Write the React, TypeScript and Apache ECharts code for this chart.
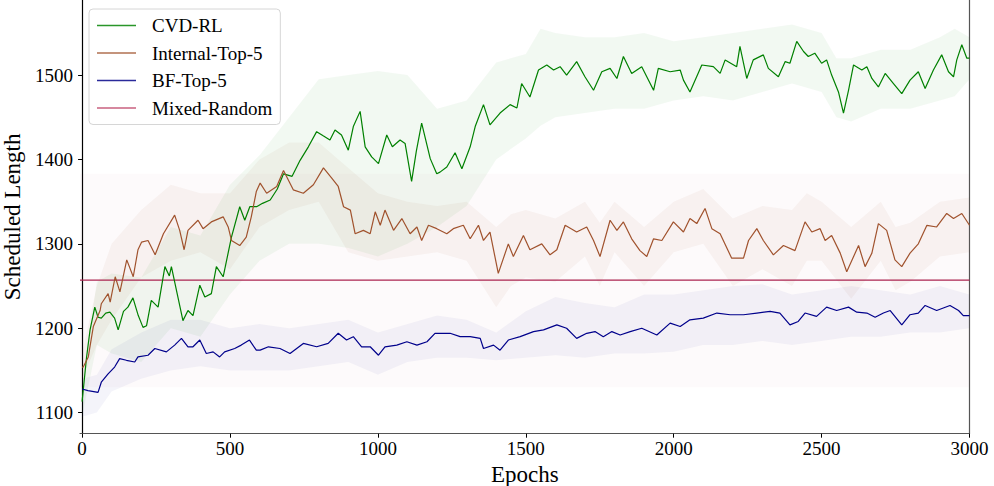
import React, { useEffect, useRef } from "react";
import * as echarts from "echarts";

const seriesNames = ["CVD-RL", "Internal-Top-5", "BF-Top-5", "Mixed-Random"];
const xTicks = [0, 500, 1000, 1500, 2000, 2500, 3000];
const yTicks = [1100, 1200, 1300, 1400, 1500];

// mean curves [epoch, scheduled length]
const cvdRL: number[][] = [
  [0, 1113], [15, 1165], [27, 1198], [43, 1225], [54, 1213], [65, 1212], [80, 1218], [94, 1219],
  [110, 1212], [122, 1198], [140, 1220], [155, 1225], [172, 1236], [190, 1215], [206, 1201],
  [218, 1203], [234, 1233], [257, 1225], [280, 1273], [295, 1262], [302, 1273], [324, 1237],
  [341, 1209], [358, 1221], [375, 1215], [398, 1251], [415, 1237], [437, 1241], [454, 1273],
  [477, 1261], [505, 1308], [533, 1344], [550, 1328], [567, 1344], [590, 1344], [610, 1348],
  [636, 1352], [660, 1365], [681, 1383], [710, 1380], [737, 1399], [765, 1415], [793, 1433],
  [815, 1428], [838, 1423], [855, 1435], [877, 1429], [900, 1411], [917, 1439], [940, 1457],
  [957, 1415], [979, 1403], [1002, 1395], [1030, 1429], [1049, 1415], [1075, 1423], [1092, 1419],
  [1114, 1374], [1130, 1410], [1148, 1443], [1177, 1401], [1199, 1383], [1210, 1385], [1233, 1391],
  [1261, 1408], [1284, 1389], [1312, 1415], [1329, 1439], [1357, 1465], [1379, 1441], [1413, 1455],
  [1447, 1465], [1470, 1461], [1486, 1490], [1514, 1474], [1543, 1506], [1571, 1512], [1594, 1506],
  [1616, 1510], [1638, 1500], [1672, 1516], [1700, 1498], [1729, 1482], [1757, 1504], [1785, 1508],
  [1808, 1496], [1830, 1522], [1858, 1502], [1892, 1510], [1932, 1482], [1948, 1508], [1988, 1504],
  [2022, 1506], [2033, 1494], [2055, 1480], [2095, 1512], [2134, 1510], [2157, 1502], [2174, 1518],
  [2213, 1510], [2224, 1534], [2247, 1496], [2269, 1518], [2303, 1524], [2320, 1508], [2354, 1498],
  [2377, 1516], [2393, 1514], [2416, 1540], [2439, 1528], [2455, 1522], [2477, 1526], [2500, 1514],
  [2517, 1518], [2534, 1500], [2557, 1480], [2574, 1455], [2591, 1482], [2608, 1512], [2636, 1506],
  [2653, 1510], [2670, 1496], [2692, 1486], [2715, 1502], [2743, 1490], [2771, 1478], [2799, 1494],
  [2827, 1504], [2850, 1484], [2878, 1506], [2906, 1524], [2929, 1504], [2946, 1498], [2957, 1518],
  [2974, 1536], [2991, 1520], [3000, 1520],
];

const internalTop5: number[][] = [
  [0, 1154], [4, 1154], [21, 1166], [38, 1202], [61, 1221], [65, 1229], [88, 1241], [95, 1231],
  [112, 1261], [128, 1243], [151, 1281], [173, 1261], [189, 1293], [201, 1302], [223, 1304],
  [247, 1287], [275, 1312], [313, 1334], [330, 1316], [345, 1293], [358, 1316], [392, 1328],
  [409, 1318], [437, 1326], [477, 1332], [494, 1320], [505, 1304], [533, 1298], [555, 1308],
  [572, 1332], [589, 1362], [602, 1372], [624, 1360], [658, 1368], [681, 1387], [714, 1364],
  [748, 1360], [782, 1370], [816, 1390], [844, 1378], [866, 1368], [884, 1344], [907, 1340],
  [923, 1312], [951, 1316], [974, 1312], [991, 1338], [1008, 1322], [1024, 1340], [1053, 1316],
  [1081, 1330], [1109, 1312], [1132, 1320], [1148, 1304], [1171, 1322], [1199, 1318], [1233, 1312],
  [1255, 1318], [1289, 1322], [1312, 1306], [1340, 1322], [1357, 1304], [1379, 1314], [1407, 1265],
  [1441, 1300], [1458, 1285], [1492, 1310], [1514, 1293], [1554, 1300], [1582, 1287], [1605, 1293],
  [1633, 1322], [1672, 1314], [1706, 1320], [1729, 1304], [1751, 1285], [1785, 1328], [1808, 1316],
  [1830, 1326], [1858, 1306], [1886, 1292], [1909, 1285], [1932, 1306], [1960, 1304], [1999, 1326],
  [2033, 1314], [2055, 1330], [2078, 1324], [2106, 1342], [2129, 1318], [2157, 1312], [2196, 1283],
  [2236, 1283], [2253, 1304], [2281, 1318], [2303, 1304], [2337, 1287], [2371, 1298], [2410, 1292],
  [2444, 1326], [2467, 1314], [2495, 1318], [2512, 1304], [2534, 1310], [2563, 1289], [2585, 1267],
  [2625, 1298], [2647, 1273], [2670, 1289], [2692, 1324], [2720, 1316], [2748, 1281], [2771, 1273],
  [2799, 1289], [2827, 1300], [2856, 1322], [2889, 1320], [2923, 1336], [2946, 1330], [2974, 1336],
  [3000, 1322],
];

const bfTop5: number[][] = [
  [0, 1128], [20, 1126], [54, 1124], [65, 1136], [88, 1146], [110, 1154], [127, 1164], [150, 1162],
  [178, 1160], [189, 1166], [223, 1168], [246, 1176], [285, 1172], [313, 1180], [336, 1188],
  [358, 1178], [375, 1178], [398, 1186], [420, 1170], [443, 1172], [465, 1166], [482, 1172],
  [516, 1176], [538, 1180], [566, 1186], [589, 1174], [602, 1174], [630, 1178], [669, 1176],
  [703, 1170], [748, 1182], [793, 1178], [832, 1182], [866, 1194], [894, 1186], [917, 1190],
  [945, 1178], [974, 1178], [1002, 1168], [1024, 1178], [1064, 1180], [1098, 1184], [1132, 1180],
  [1166, 1184], [1193, 1194], [1210, 1194], [1244, 1194], [1278, 1190], [1312, 1190], [1346, 1188],
  [1357, 1176], [1391, 1180], [1413, 1174], [1441, 1186], [1481, 1190], [1526, 1196], [1560, 1198],
  [1605, 1204], [1638, 1200], [1672, 1188], [1706, 1194], [1734, 1196], [1762, 1190], [1791, 1196],
  [1819, 1192], [1853, 1196], [1892, 1200], [1943, 1192], [1988, 1206], [2022, 1202], [2055, 1210],
  [2100, 1212], [2146, 1218], [2191, 1216], [2236, 1216], [2281, 1218], [2326, 1220], [2359, 1218],
  [2393, 1204], [2421, 1208], [2444, 1218], [2483, 1214], [2517, 1225], [2551, 1221], [2591, 1225],
  [2619, 1219], [2653, 1218], [2681, 1213], [2709, 1218], [2732, 1221], [2771, 1204], [2799, 1216],
  [2827, 1218], [2850, 1227], [2889, 1221], [2934, 1227], [2963, 1221], [2979, 1215], [3000, 1215],
];

const mixedRandom: number[][] = [[-7, 1257], [3000, 1257]];
const mixedBand = [1130, 1383];

// shaded bands [epoch, lower, upper]
const cvdBand: number[][] = [
  [0, 1095, 1135], [50, 1180, 1255], [100, 1170, 1265], [200, 1160, 1260], [300, 1200, 1320],
  [400, 1190, 1310], [500, 1240, 1370], [600, 1280, 1405], [700, 1300, 1450], [800, 1300, 1495],
  [900, 1295, 1500], [1000, 1285, 1505], [1100, 1300, 1500], [1200, 1320, 1460], [1300, 1345, 1470],
  [1400, 1400, 1515], [1500, 1425, 1525], [1550, 1440, 1555], [1600, 1450, 1550], [1700, 1455, 1545],
  [1800, 1460, 1545], [1900, 1460, 1550], [2000, 1470, 1540], [2100, 1475, 1545], [2200, 1470, 1550],
  [2300, 1480, 1555], [2400, 1490, 1560], [2500, 1480, 1550], [2550, 1450, 1520], [2600, 1445, 1520],
  [2700, 1460, 1530], [2800, 1460, 1530], [2900, 1470, 1545], [2950, 1475, 1555], [3000, 1495, 1545],
];

const internalBand: number[][] = [
  [0, 1140, 1170], [50, 1180, 1250], [100, 1210, 1300], [200, 1260, 1340], [300, 1280, 1370],
  [400, 1290, 1360], [500, 1270, 1360], [600, 1320, 1400], [700, 1340, 1420], [800, 1350, 1420],
  [900, 1290, 1390], [1000, 1280, 1360], [1100, 1285, 1350], [1200, 1290, 1345], [1300, 1280, 1350],
  [1400, 1225, 1320], [1450, 1250, 1335], [1500, 1260, 1340], [1600, 1255, 1330], [1700, 1285, 1350],
  [1750, 1250, 1325], [1800, 1290, 1350], [1900, 1250, 1320], [2000, 1290, 1350], [2100, 1300, 1365],
  [2200, 1250, 1330], [2300, 1270, 1345], [2400, 1250, 1340], [2450, 1280, 1360], [2500, 1280, 1350],
  [2600, 1235, 1320], [2700, 1280, 1350], [2750, 1245, 1320], [2800, 1255, 1325], [2900, 1285, 1350],
  [3000, 1290, 1355],
];

const bfBand: number[][] = [
  [0, 1095, 1140], [50, 1100, 1145], [100, 1125, 1175], [200, 1140, 1195], [300, 1150, 1210],
  [400, 1155, 1210], [500, 1150, 1200], [600, 1150, 1205], [700, 1150, 1200], [800, 1155, 1205],
  [900, 1160, 1210], [1000, 1145, 1195], [1100, 1160, 1205], [1200, 1165, 1215], [1300, 1165, 1210],
  [1400, 1162, 1195], [1500, 1165, 1220], [1600, 1168, 1237], [1700, 1165, 1230], [1800, 1170, 1225],
  [1900, 1170, 1240], [2000, 1172, 1240], [2100, 1180, 1245], [2200, 1180, 1250], [2300, 1185, 1252],
  [2400, 1180, 1240], [2500, 1185, 1245], [2600, 1190, 1250], [2700, 1190, 1245], [2800, 1195, 1240],
  [2900, 1195, 1250], [3000, 1200, 1240],
];

const FONT = "'Liberation Serif', 'Times New Roman', serif";

function bandSeries(band: number[][], fill: string) {
  return {
    type: "custom",
    silent: true,
    clip: true,
    z: 1,
    data: [[band[0][0], band[0][1]]],
    renderItem: (_params: any, api: any) => {
      const pts: number[][] = [];
      for (let i = 0; i < band.length; i++) pts.push(api.coord([band[i][0], band[i][2]]));
      for (let i = band.length - 1; i >= 0; i--) pts.push(api.coord([band[i][0], band[i][1]]));
      return { type: "polygon", shape: { points: pts }, style: { fill } };
    },
  };
}

const plain = (v: number) => String(v);

export default function App() {
  const ref = useRef<HTMLDivElement>(null);
  useEffect(() => {
    document.body.style.margin = "0";
    const chart = echarts.init(ref.current!, null, { renderer: "svg" });
    chart.setOption({
      animation: false,
      backgroundColor: "#ffffff",
      grid: { left: 80, right: 24.5, top: 0, bottom: 52.3, containLabel: false, outerBoundsMode: "none" },
      legend: {
        data: seriesNames,
        orient: "vertical",
        left: 89,
        top: 9,
        icon: "rect",
        itemWidth: 39,
        itemHeight: 1.5,
        itemGap: 8.5,
        padding: [7, 8, 7, 8],
        backgroundColor: "rgba(255,255,255,0.85)",
        borderColor: "#d6d6d6",
        borderWidth: 1,
        borderRadius: 4,
        textStyle: { fontFamily: FONT, fontSize: 19, lineHeight: 19, color: "#000", padding: [0, 0, 0, 11] },
      },
      xAxis: {
        type: "value",
        min: -7,
        max: 3000,
        name: "Epochs",
        nameLocation: "middle",
        nameGap: 18,
        nameTextStyle: { fontFamily: FONT, fontSize: 23, color: "#000" },
        splitLine: { show: false },
        axisLine: { show: true, lineStyle: { color: "#555", width: 1.2 } },
        axisTick: { show: true, length: 4, customValues: xTicks, lineStyle: { color: "#000" } },
        axisLabel: { customValues: xTicks, formatter: plain, fontFamily: FONT, fontSize: 19, color: "#000", margin: 5 },
      },
      yAxis: [
        {
          type: "value",
          min: 1075,
          max: 1589,
          name: "Scheduled Length",
          nameLocation: "middle",
          nameGap: 40,
          nameTextStyle: { fontFamily: FONT, fontSize: 23, color: "#000" },
          splitLine: { show: false },
          axisLine: { show: true, lineStyle: { color: "#000", width: 1.2 } },
          axisTick: { show: true, length: 4, customValues: yTicks, lineStyle: { color: "#000" } },
          axisLabel: { customValues: yTicks, formatter: plain, fontFamily: FONT, fontSize: 19, color: "#000", margin: 7 },
        },
        {
          type: "value",
          position: "right",
          min: 1075,
          max: 1589,
          splitLine: { show: false },
          axisLine: { show: true, lineStyle: { color: "#555", width: 1.2 } },
          axisTick: { show: false },
          axisLabel: { show: false },
        },
      ],
      series: [
        bandSeries(cvdBand, "rgba(0,128,0,0.05)"),
        bandSeries(internalBand, "rgba(160,82,45,0.05)"),
        bandSeries(bfBand, "rgba(0,0,139,0.045)"),
        {
          name: "Mixed-Random",
          type: "line",
          data: mixedRandom,
          symbol: "none",
          z: 3,
          lineStyle: { color: "#ab2550", width: 1.3 },
          itemStyle: { color: "#c8607f" },
          markArea: {
            silent: true,
            itemStyle: { color: "rgba(190,60,110,0.028)" },
            data: [[{ yAxis: mixedBand[0] }, { yAxis: mixedBand[1] }]],
          },
        },
        {
          name: "CVD-RL",
          type: "line",
          data: cvdRL,
          symbol: "none",
          z: 4,
          lineStyle: { color: "#008000", width: 1.2 },
          itemStyle: { color: "#2a962a" },
        },
        {
          name: "Internal-Top-5",
          type: "line",
          data: internalTop5,
          symbol: "none",
          z: 4,
          lineStyle: { color: "#a0522d", width: 1.2 },
          itemStyle: { color: "#b07050" },
        },
        {
          name: "BF-Top-5",
          type: "line",
          data: bfTop5,
          symbol: "none",
          z: 4,
          lineStyle: { color: "#00008b", width: 1.2 },
          itemStyle: { color: "#2a2a9a" },
        },
      ],
    });
    return () => chart.dispose();
  }, []);
  return <div ref={ref} style={{ width: 994, height: 486 }} />;
}
